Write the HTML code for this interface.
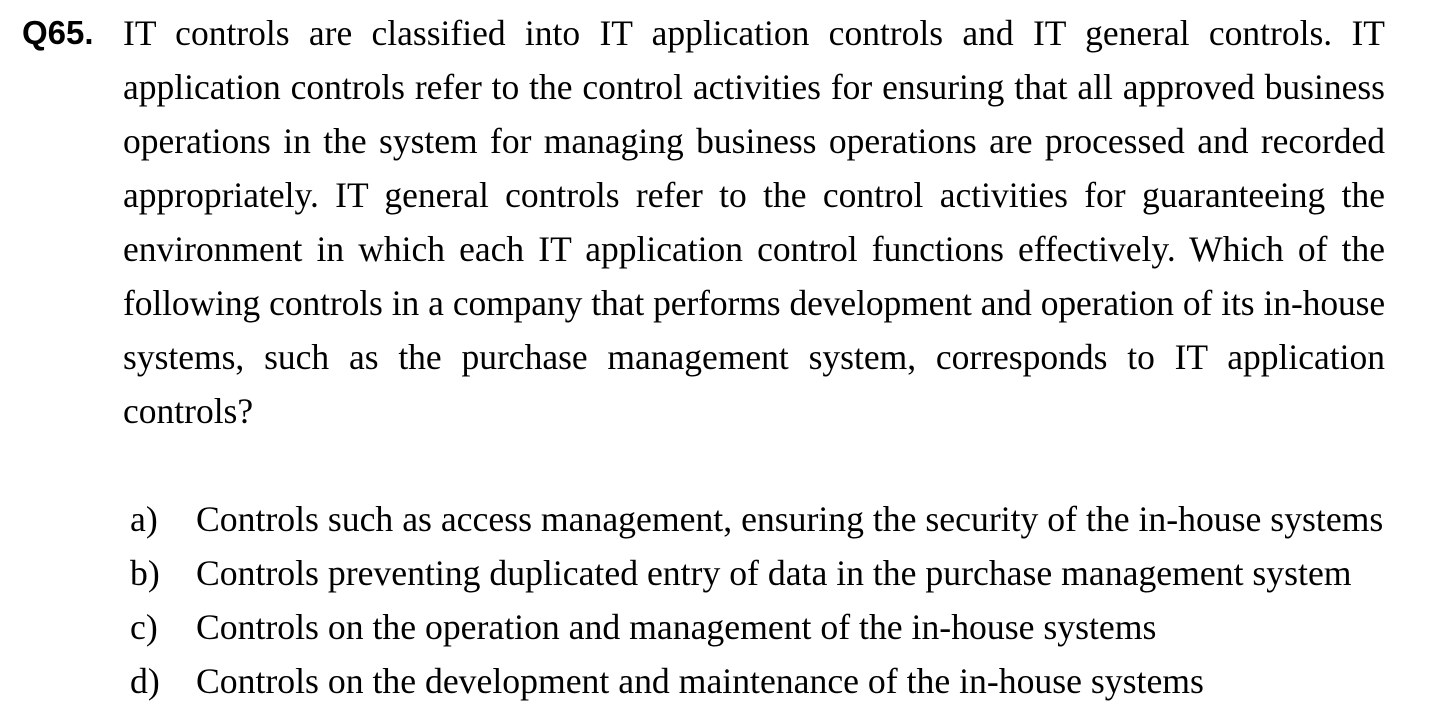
<!DOCTYPE html>
<html><head><meta charset="utf-8"><style>
body{margin:0;width:1450px;height:728px;background:#fff;overflow:hidden;position:relative;font-family:"Liberation Serif",serif;color:#000}
.q{position:absolute;left:22px;top:14px;font:bold 33px "Liberation Sans",sans-serif}
.l{position:absolute;left:123px;width:1262px;font-size:35.5px;line-height:40px;text-align:justify;text-align-last:justify;white-space:nowrap}
.n{text-align-last:left}
.o{position:absolute;font-size:35.7px;line-height:40px;white-space:nowrap}
</style></head><body>
<div class="q">Q65.</div>
<div class="l" style="top:13px">IT controls are classified into IT application controls and IT general controls. IT</div>
<div class="l" style="top:67px">application controls refer to the control activities for ensuring that all approved business</div>
<div class="l" style="top:121px">operations in the system for managing business operations are processed and recorded</div>
<div class="l" style="top:175px">appropriately. IT general controls refer to the control activities for guaranteeing the</div>
<div class="l" style="top:229px">environment in which each IT application control functions effectively. Which of the</div>
<div class="l" style="top:283px;letter-spacing:-0.1px">following controls in a company that performs development and operation of its in-house</div>
<div class="l" style="top:337px">systems, such as the purchase management system, corresponds to IT application</div>
<div class="l n" style="top:391px">controls?</div>
<div class="o" style="left:130px;top:499px">a)</div><div class="o" style="left:196px;top:499px">Controls such as access management, ensuring the security of the in-house systems</div>
<div class="o" style="left:130px;top:553px">b)</div><div class="o" style="left:196px;top:553px">Controls preventing duplicated entry of data in the purchase management system</div>
<div class="o" style="left:130px;top:607px">c)</div><div class="o" style="left:196px;top:607px">Controls on the operation and management of the in-house systems</div>
<div class="o" style="left:130px;top:661px">d)</div><div class="o" style="left:196px;top:661px">Controls on the development and maintenance of the in-house systems</div>
</body></html>
